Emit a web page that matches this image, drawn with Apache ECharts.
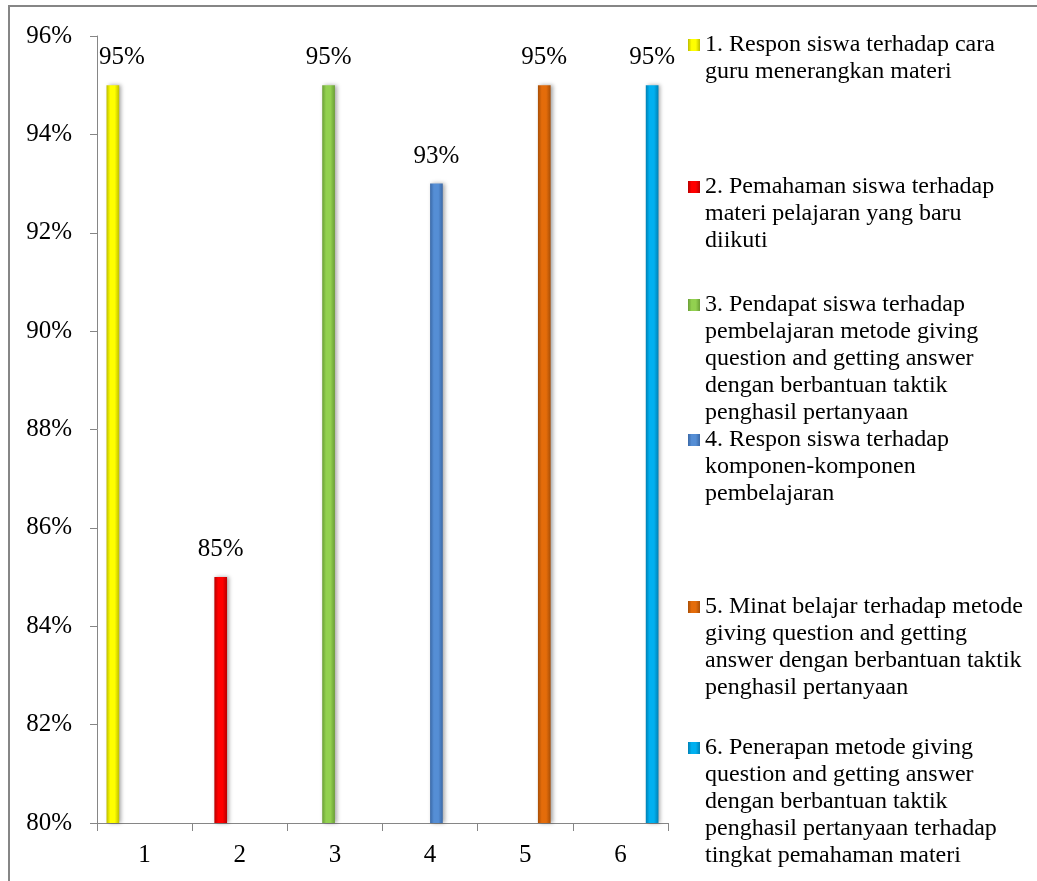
<!DOCTYPE html>
<html>
<head>
<meta charset="utf-8">
<script src="https://cdn.jsdelivr.net/npm/echarts@6/dist/echarts.min.js"></script>
<style>
  html, body { margin: 0; padding: 0; background: #fff; }
  #chart { width: 1037px; height: 881px; }
</style>
</head>
<body>
<div id="chart"></div>
<script>
// ---- data ----
const categories = ['1', '2', '3', '4', '5', '6'];
const values = [95, 85, 95, 93, 95, 95];
const yMin = 80, yMax = 96, yInterval = 2;
const legendLines = [
  ['1. Respon siswa terhadap cara', 'guru menerangkan materi'],
  ['2. Pemahaman siswa terhadap', 'materi pelajaran yang baru', 'diikuti'],
  ['3. Pendapat siswa terhadap', 'pembelajaran metode giving', 'question and getting answer', 'dengan berbantuan taktik', 'penghasil pertanyaan'],
  ['4. Respon siswa terhadap', 'komponen-komponen', 'pembelajaran'],
  ['5. Minat belajar terhadap metode', 'giving question and getting', 'answer dengan berbantuan taktik', 'penghasil pertanyaan'],
  ['6. Penerapan metode giving', 'question and getting answer', 'dengan berbantuan taktik', 'penghasil pertanyaan terhadap', 'tingkat pemahaman materi']
];
const seriesNames = legendLines.map(l => l.join(' '));

// ---- styles ----
const baseColors = ['#FFFF00', '#FF0000', '#92D050', '#558ED5', '#E46C0A', '#00B0F0'];
const darkColors = ['#BDBD00', '#B80000', '#6A9E36', '#3A68A6', '#A84E06', '#0080B4'];
const legendTops = [45, 187, 305, 440, 607, 748]; // first-line centres
const LH = 27;
const FONT = "'Liberation Serif', 'Times New Roman', serif";

function grad(i) {
  return new echarts.graphic.LinearGradient(0, 0, 1, 0, [
    { offset: 0, color: darkColors[i] },
    { offset: 0.3, color: baseColors[i] },
    { offset: 0.65, color: baseColors[i] },
    { offset: 1, color: darkColors[i] }
  ]);
}

const series = seriesNames.map((name, i) => ({
  name: name,
  type: 'bar',
  barGap: '0%',
  barCategoryGap: '20%',
  data: categories.map((c, j) => (j === i ? values[i] : '-')),
  itemStyle: {
    color: grad(i),
    shadowColor: 'rgba(0,0,0,0.35)',
    shadowBlur: 4,
    shadowOffsetX: 2
  },
  label: {
    show: true,
    position: 'top',
    distance: 15,
    offset: i === 0 ? [9, 0] : [0, 0],
    formatter: '{c}%',
    fontFamily: FONT,
    fontSize: 25,
    color: '#000'
  }
}));

const legends = seriesNames.map((name, i) => {
  const n = legendLines[i].length;
  return {
    data: [name],
    left: 688,
    top: legendTops[i] - (2 * n - 1) * LH / 2,
    padding: 0,
    orient: 'vertical',
    icon: 'rect',
    itemWidth: 12,
    itemHeight: 12,
    selectedMode: false,
    formatter: () => '\n'.repeat(n - 1) + legendLines[i].join('\n'),
    textStyle: { fontFamily: FONT, fontSize: 24, lineHeight: LH, color: '#000' }
  };
});

const chart = echarts.init(document.getElementById('chart'));
chart.setOption({
  animation: false,
  backgroundColor: '#fff',
  grid: { left: 97, right: 369, top: 36, bottom: 58, containLabel: false },
  legend: legends,
  xAxis: {
    type: 'category',
    data: categories,
    axisLine: { lineStyle: { color: '#868686', width: 1 } },
    axisTick: { show: true, length: 8, alignWithLabel: false, lineStyle: { color: '#868686' } },
    axisLabel: { fontFamily: FONT, fontSize: 25, color: '#000', margin: 20 }
  },
  yAxis: {
    type: 'value',
    min: yMin,
    max: yMax,
    interval: yInterval,
    splitLine: { show: false },
    axisLine: { show: true, lineStyle: { color: '#868686', width: 1 } },
    axisTick: { show: true, length: 7, lineStyle: { color: '#868686' } },
    axisLabel: { formatter: '{value}%', fontFamily: FONT, fontSize: 25, color: '#000', margin: 25 }
  },
  graphic: [{
    type: 'rect',
    silent: true,
    shape: { x: 9, y: 6, width: 1200, height: 1000 },
    style: { fill: 'none', stroke: '#868686', lineWidth: 2 }
  }],
  series: series
});
</script>
</body>
</html>
